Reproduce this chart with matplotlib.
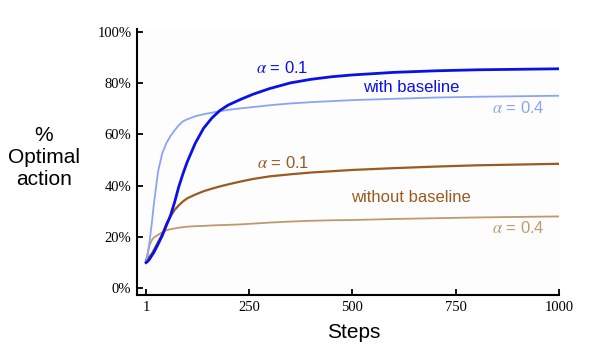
import matplotlib
matplotlib.use("Agg")
import matplotlib.pyplot as plt

plt.rcParams['mathtext.fontset'] = 'stix'
plt.rcParams['font.family'] = ['Liberation Sans', 'DejaVu Sans']

steps = [1, 5, 10, 15, 20, 30, 40, 50, 60, 70, 80, 90, 100, 120, 140, 160, 180,
         200, 230, 260, 300, 350, 400, 450, 500, 600, 700, 800, 900, 1000]

with_baseline_a01 = [10, 10.5, 11.5, 12.8, 14, 17.2, 20.5, 24.5, 28.3, 33.5, 39.5, 44.5,
                     49, 56.5, 62.3, 66.3, 69.3, 71.4, 73.6, 75.6, 77.8, 80.0, 81.4,
                     82.4, 83.1, 84.1, 84.7, 85.1, 85.3, 85.5]
with_baseline_a04 = [10.5, 13, 19, 25.5, 33, 45.5, 52.5, 56.5, 59.3, 61.5, 63.5, 65,
                     65.8, 67, 67.8, 68.4, 69, 69.5, 70.1, 70.6, 71.3, 72, 72.5, 72.9,
                     73.3, 73.8, 74.3, 74.6, 74.8, 75]
without_baseline_a01 = [11, 11.8, 12.5, 13.5, 15, 18, 21, 25, 28, 30.5, 32.3, 33.8,
                        35, 36.5, 37.8, 38.8, 39.7, 40.5, 41.6, 42.6, 43.6, 44.4, 45.1,
                        45.6, 46.1, 46.8, 47.4, 47.9, 48.2, 48.5]
without_baseline_a04 = [11, 14, 17, 18.8, 19.8, 20.8, 21.8, 22.6, 23, 23.3, 23.6, 23.8,
                        24, 24.2, 24.3, 24.5, 24.6, 24.7, 24.9, 25.2, 25.6, 26, 26.3,
                        26.5, 26.6, 27, 27.3, 27.6, 27.8, 28]

xticks = [1, 250, 500, 750, 1000]
yticks = [0, 20, 40, 60, 80, 100]
ytick_labels = ['0%', '20%', '40%', '60%', '80%', '100%']

c_dark_blue = '#0a10e8'
c_light_blue = '#8aa4f6'
c_brown = '#9a5a22'
c_tan = '#bf9a6c'

fig = plt.figure(figsize=(6, 3.57), dpi=100)
ax = fig.add_axes([0.2283, 0.1737, 0.7034, 0.7451])
ax.set_facecolor('#fdfdfd')

ax.plot(steps, without_baseline_a04, color=c_tan, lw=1.3)
ax.plot(steps, without_baseline_a01, color=c_brown, lw=1.6)
ax.plot(steps, with_baseline_a04, color=c_light_blue, lw=1.3)
ax.plot(steps, with_baseline_a01, color=c_dark_blue, lw=2.0)

ax.set_xlim(-21, 1000)
ax.set_ylim(-2.6, 101)

for s in ['top', 'right']:
    ax.spines[s].set_visible(False)
for s in ['left', 'bottom']:
    ax.spines[s].set_linewidth(1.5)
    ax.spines[s].set_color('black')

ax.set_xticks(xticks)
ax.set_xticklabels([str(t) for t in xticks])
ax.set_yticks(yticks)
ax.set_yticklabels(ytick_labels)
ax.tick_params(direction='in', length=4, width=1.3, pad=4, labelsize=10.5)
for lab in ax.get_xticklabels() + ax.get_yticklabels():
    lab.set_fontfamily(['Liberation Serif', 'DejaVu Serif'])

fs = 12
ax.text(267, 83.8, r'$\alpha$ = 0.1', color=c_dark_blue, fontsize=fs, va='baseline', ha='left')
ax.text(527, 76.4, 'with baseline', color=c_dark_blue, fontsize=fs, va='baseline', ha='left')
ax.text(837, 68.4, r'$\alpha$ = 0.4', color=c_light_blue, fontsize=fs, va='baseline', ha='left')
ax.text(270, 46.8, r'$\alpha$ = 0.1', color=c_brown, fontsize=fs, va='baseline', ha='left')
ax.text(498, 33.5, 'without baseline', color=c_brown, fontsize=fs, va='baseline', ha='left')
ax.text(837, 21.4, r'$\alpha$ = 0.4', color=c_tan, fontsize=fs, va='baseline', ha='left')

fig.text(0.073, 0.56, '%\nOptimal\naction', ha='center', va='center', fontsize=15,
         linespacing=1.2)
fig.text(0.589, 0.0524, 'Steps', ha='center', va='baseline', fontsize=15)

fig.savefig('out.png', dpi=100)
